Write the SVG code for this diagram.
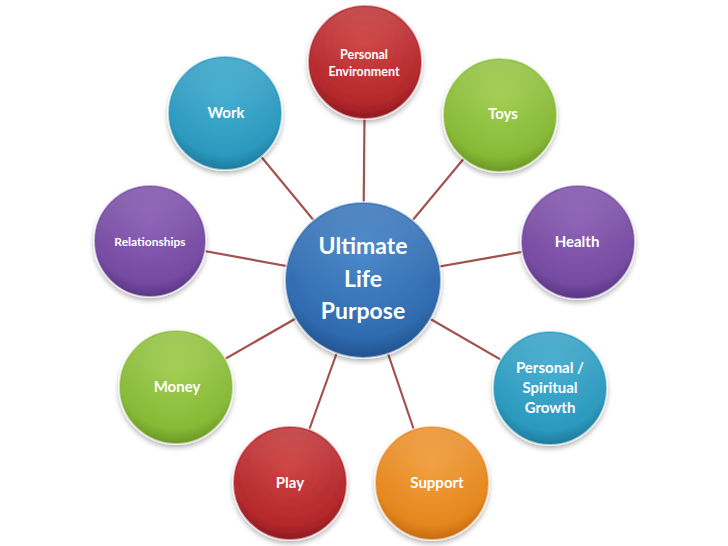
<svg xmlns="http://www.w3.org/2000/svg" width="728" height="546" viewBox="0 0 728 546">
<defs>
<radialGradient id="gRed" cx="0.5" cy="0.35" r="0.65"><stop offset="0" stop-color="#cc3a3a"/><stop offset="0.8" stop-color="#b3262a"/><stop offset="1" stop-color="#8e1a1f"/></radialGradient>
<radialGradient id="gGreen" cx="0.5" cy="0.35" r="0.65"><stop offset="0" stop-color="#9ccb4a"/><stop offset="0.8" stop-color="#86b935"/><stop offset="1" stop-color="#6a9725"/></radialGradient>
<radialGradient id="gPurple" cx="0.5" cy="0.35" r="0.65"><stop offset="0" stop-color="#8659b2"/><stop offset="0.8" stop-color="#7449a0"/><stop offset="1" stop-color="#5a3583"/></radialGradient>
<radialGradient id="gTeal" cx="0.5" cy="0.35" r="0.65"><stop offset="0" stop-color="#3aa9cd"/><stop offset="0.8" stop-color="#2a98bd"/><stop offset="1" stop-color="#1c7a9c"/></radialGradient>
<radialGradient id="gOrange" cx="0.5" cy="0.35" r="0.65"><stop offset="0" stop-color="#f09a35"/><stop offset="0.8" stop-color="#e5861c"/><stop offset="1" stop-color="#c46a10"/></radialGradient>
<radialGradient id="gBlue" cx="0.5" cy="0.35" r="0.65"><stop offset="0" stop-color="#3f80c6"/><stop offset="0.8" stop-color="#2d69ae"/><stop offset="1" stop-color="#22528e"/></radialGradient>
<linearGradient id="gShine" x1="0" y1="0" x2="0" y2="1"><stop offset="0" stop-color="#fff" stop-opacity="0.15"/><stop offset="0.5" stop-color="#fff" stop-opacity="0.03"/><stop offset="1" stop-color="#fff" stop-opacity="0"/></linearGradient>
<filter id="sh" x="-20%" y="-20%" width="140%" height="150%"><feGaussianBlur in="SourceAlpha" stdDeviation="2.5"/><feOffset dy="3"/><feComponentTransfer><feFuncA type="linear" slope="0.3"/></feComponentTransfer><feMerge><feMergeNode/><feMergeNode in="SourceGraphic"/></feMerge></filter>
<style>
.c{stroke:#ffffff;stroke-opacity:0.55;stroke-width:2;filter:url(#sh)}
.s{fill:url(#gShine)}
.t{font-family:Lato,"Open Sans","Liberation Sans",sans-serif;font-weight:bold;fill:#ffffff;text-anchor:middle}
.link{stroke:#a2514c;stroke-width:2.2;fill:none}
</style>
</defs>
<rect width="728" height="546" fill="#ffffff"/>
<g id="connectors">
<line class="link" x1="363" y1="280" x2="365" y2="62"/>
<line class="link" x1="363" y1="280" x2="500" y2="115"/>
<line class="link" x1="363" y1="280" x2="578" y2="242"/>
<line class="link" x1="363" y1="280" x2="550" y2="388"/>
<line class="link" x1="363" y1="280" x2="432" y2="483"/>
<line class="link" x1="363" y1="280" x2="290" y2="483"/>
<line class="link" x1="363" y1="280" x2="176" y2="387"/>
<line class="link" x1="363" y1="280" x2="150" y2="241"/>
<line class="link" x1="363" y1="280" x2="225" y2="113"/>
</g>
<g id="personal-environment">
<circle class="c" cx="365" cy="62" r="57" fill="url(#gRed)"/>
<circle class="s" cx="365" cy="62" r="55"/>
<text class="t" x="364" y="59" font-size="12.5">Personal</text>
<text class="t" x="364" y="76" font-size="12.5">Environment</text>
</g>
<g id="toys">
<circle class="c" cx="500" cy="115" r="57" fill="url(#gGreen)"/>
<circle class="s" cx="500" cy="115" r="55"/>
<text class="t" x="503" y="119" font-size="15">Toys</text>
</g>
<g id="health">
<circle class="c" cx="578" cy="242" r="57" fill="url(#gPurple)"/>
<circle class="s" cx="578" cy="242" r="55"/>
<text class="t" x="577" y="247" font-size="15">Health</text>
</g>
<g id="growth">
<circle class="c" cx="550" cy="388" r="57" fill="url(#gTeal)"/>
<circle class="s" cx="550" cy="388" r="55"/>
<text class="t" x="550" y="373" font-size="15">Personal /</text>
<text class="t" x="550" y="393" font-size="15">Spiritual</text>
<text class="t" x="550" y="413" font-size="15">Growth</text>
</g>
<g id="support">
<circle class="c" cx="432" cy="483" r="57" fill="url(#gOrange)"/>
<circle class="s" cx="432" cy="483" r="55"/>
<text class="t" x="437" y="488" font-size="15">Support</text>
</g>
<g id="play">
<circle class="c" cx="290" cy="483" r="57" fill="url(#gRed)"/>
<circle class="s" cx="290" cy="483" r="55"/>
<text class="t" x="290" y="488" font-size="15">Play</text>
</g>
<g id="money">
<circle class="c" cx="176" cy="387" r="57" fill="url(#gGreen)"/>
<circle class="s" cx="176" cy="387" r="55"/>
<text class="t" x="177" y="392" font-size="15">Money</text>
</g>
<g id="relationships">
<circle class="c" cx="150" cy="241" r="56" fill="url(#gPurple)"/>
<circle class="s" cx="150" cy="241" r="54"/>
<text class="t" x="150" y="246" font-size="12">Relationships</text>
</g>
<g id="work">
<circle class="c" cx="225" cy="113" r="57" fill="url(#gTeal)"/>
<circle class="s" cx="225" cy="113" r="55"/>
<text class="t" x="226" y="118" font-size="15">Work</text>
</g>
<g id="center">
<circle class="c" cx="363" cy="280" r="78" fill="url(#gBlue)"/>
<circle class="s" cx="363" cy="280" r="76"/>
<text class="t" x="363" y="254" font-size="23">Ultimate</text>
<text class="t" x="363" y="287" font-size="23">Life</text>
<text class="t" x="363" y="319" font-size="23">Purpose</text>
</g>
</svg>
